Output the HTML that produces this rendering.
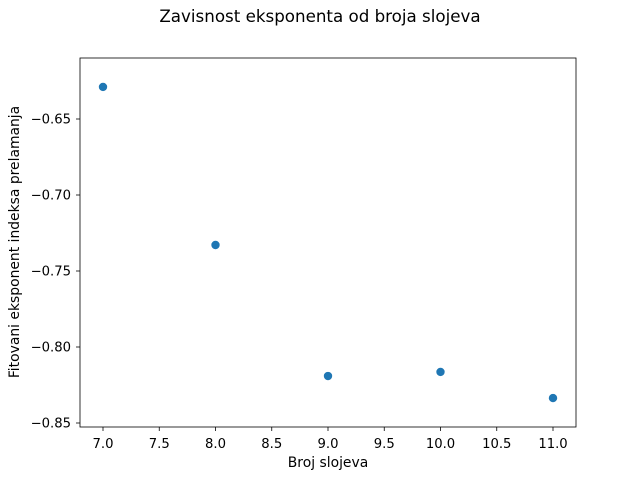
<!DOCTYPE html>
<html><head><meta charset="utf-8"><style>
body{margin:0;background:#fff}
svg{display:block;font-family:"DejaVu Sans","Liberation Sans",sans-serif}
</style></head><body>
<svg id="chart" width="640" height="480">
<rect width="640" height="480" fill="#fff"/>
<text x="320" y="22" text-anchor="middle" font-size="16.7">Zavisnost eksponenta od broja slojeva</text>
<rect x="80" y="58" width="496" height="369" fill="none" stroke="#000" stroke-width="0.8"/>
<g id="xt"></g><g id="yt"></g><g id="pts"></g>
<text x="328" y="467" text-anchor="middle" font-size="13.9">Broj slojeva</text>
<text transform="translate(19,242) rotate(-90)" text-anchor="middle" font-size="13.9">Fitovani eksponent indeksa prelamanja</text>
</svg>
<script>
const layers=[7,8,9,10,11];
const exponents=[-0.6289,-0.7329,-0.8191,-0.8164,-0.8336];
const xTicks=[7.0,7.5,8.0,8.5,9.0,9.5,10.0,10.5,11.0];
const yTicks=[-0.65,-0.70,-0.75,-0.80,-0.85];
const NS="http://www.w3.org/2000/svg";
const sx=v=>103+(v-7)*112.5;
const sy=v=>119+(-0.65-v)*1520;
function mk(t,a,p){const e=document.createElementNS(NS,t);for(const k in a)e.setAttribute(k,a[k]);p.appendChild(e);return e;}
const xt=document.getElementById('xt');
xTicks.forEach(v=>{
 const l=mk('line',{x1:sx(v),x2:sx(v),y1:427,y2:431,stroke:'#000','stroke-width':0.8},xt);
 
 
 const t=mk('text',{x:sx(v),y:448,'text-anchor':'middle','font-size':13.2},xt);
 t.textContent=v.toFixed(1);
 
 
});
const yt=document.getElementById('yt');
yTicks.forEach(v=>{
 const l=mk('line',{x1:76,x2:80,y1:sy(v),y2:sy(v),stroke:'#000','stroke-width':0.8},yt);
 
 
 const t=mk('text',{x:71,y:sy(v)+4.5,'text-anchor':'end','font-size':13.2},yt);
 t.textContent='\u2212'+Math.abs(v).toFixed(2);
 
 
});
const pts=document.getElementById('pts');
layers.forEach((x,i)=>{
 const c=mk('circle',{cx:sx(x),cy:sy(exponents[i]),r:4.2,fill:'#1f77b4'},pts);
 
 
});
</script>
</body></html>
